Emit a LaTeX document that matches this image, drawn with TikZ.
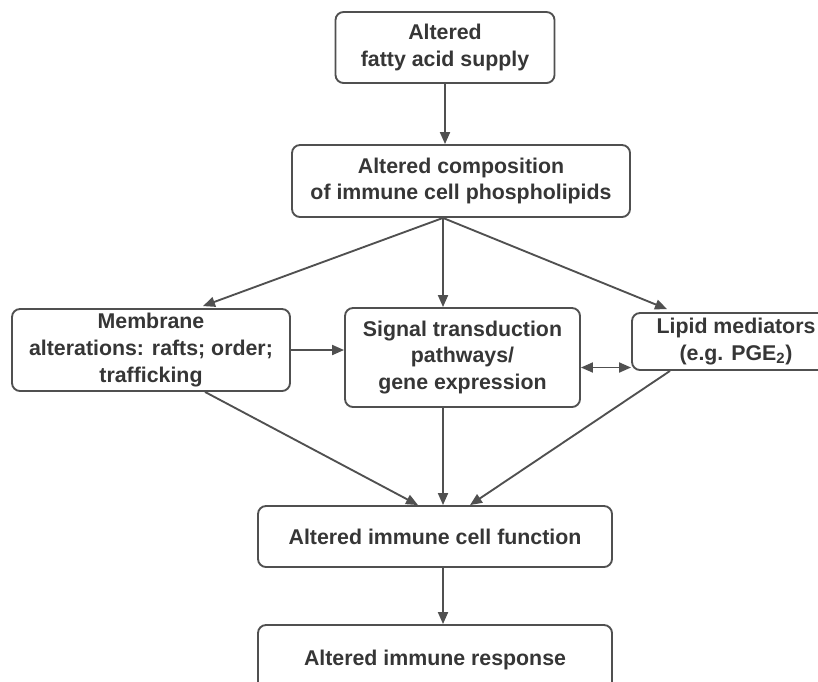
\documentclass[tikz,border=0pt]{standalone}
\usepackage{fontspec}
\setmainfont{Liberation Sans}
\usetikzlibrary{arrows.meta,positioning,calc}
\definecolor{fgray}{HTML}{363636}
\definecolor{lgray}{HTML}{505050}
\tikzset{
  box/.style={draw=lgray,fill=white,rounded corners=6pt,line width=1.4pt,align=center,text=fgray,font=\fontsize{16}{20}\selectfont\bfseries,inner sep=2pt},
  arr/.style={-{Triangle[length=9pt,width=7.5pt]},line width=1.4pt,draw=lgray},
  darr/.style={{Triangle[length=9pt,width=7.5pt]}-{Triangle[length=9pt,width=7.5pt]},line width=1.4pt,draw=lgray},
}
\begin{document}
\begin{tikzpicture}[x=0.75pt,y=-0.75pt]
  \def\u{0.75pt}
  \useasboundingbox (0,0) rectangle (818,682);
  % --- boxes
  \node[box,minimum width={219*\u},minimum height={71*\u}] (supply) at (445,47.5) {Altered\\fatty acid supply};
  \node[box,minimum width={338*\u},minimum height={72*\u}] (compo) at (461,181) {Altered composition\\of immune cell phospholipids};
  \node[box,minimum width={278*\u},minimum height={82*\u}] (membr) at (151,350) {Membrane\\alterations: rafts; order;\\trafficking};
  \node[box,minimum width={235*\u},minimum height={99*\u}] (signal) at (462.5,357.5) {Signal transduction\\pathways/\\gene expression};
  \node[box,minimum width={208*\u},minimum height={57*\u}] (lipid) at (736,341.5) {Lipid mediators\\(e.g. PGE\textsubscript{2})};
  \node[box,minimum width={354*\u},minimum height={61*\u}] (func) at (435,536.5) {Altered immune cell function};
  \node[box,minimum width={354*\u},minimum height={70*\u}] (resp) at (435,660) {Altered immune response};
  % --- connectors
  \draw[arr] (supply.south) -- (supply.south |- compo.north);
  \coordinate (fork) at ([xshift=-18*\u]compo.south);
  \draw[arr] (fork) -- ([xshift=52*\u,yshift=2*\u]membr.north);
  \draw[arr] (fork) -- (fork |- signal.north);
  \draw[arr] (fork) -- ([xshift=-69*\u,yshift=3*\u]lipid.north);
  \draw[arr] (membr.east) -- (membr.east -| signal.west);
  \draw[darr] ([yshift=-10*\u]signal.east) -- ([yshift=-10*\u]signal.east -| lipid.west);
  \draw[arr] ([xshift=54*\u]membr.south) -- ([xshift=-17*\u]func.north);
  \draw[arr] (fork |- signal.south) -- (fork |- func.north);
  \draw[arr] ([xshift=-66*\u]lipid.south) -- ([xshift=35*\u]func.north);
  \draw[arr] (fork |- func.south) -- (fork |- resp.north);
\end{tikzpicture}
\end{document}
